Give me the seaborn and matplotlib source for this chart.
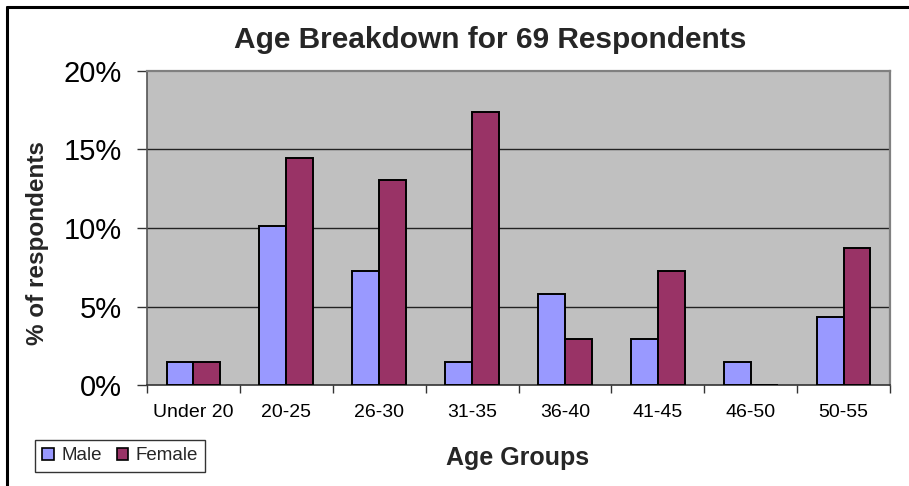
import matplotlib
matplotlib.use("Agg")
import matplotlib.pyplot as plt
from matplotlib.lines import Line2D
from matplotlib.patches import Patch
import seaborn as sns
import pandas as pd
import numpy as np

# Survey breakdown (69 respondents), counts shown as percentages
age_groups = ["Under 20", "20-25", "26-30", "31-35", "36-40", "41-45", "46-50", "50-55"]
male_pct = [1.45, 10.14, 7.25, 1.45, 5.80, 2.90, 1.45, 4.35]
female_pct = [1.45, 14.49, 13.04, 17.39, 2.90, 7.25, 0.0, 8.70]
y_ticks = [0, 5, 10, 15, 20]
y_tick_labels = ["0%", "5%", "10%", "15%", "20%"]
series_names = ["Male", "Female"]
series_colors = ["#9999FF", "#993366"]

df = pd.DataFrame({
    "group": age_groups * 2,
    "sex": [series_names[0]] * len(age_groups) + [series_names[1]] * len(age_groups),
    "pct": male_pct + female_pct,
})

sns.set_theme(style="white")
plt.rcParams["font.family"] = ["Liberation Sans", "DejaVu Sans"]

fig = plt.figure(figsize=(9.09, 4.86), dpi=100)
ax = fig.add_axes([147 / 909, 1 - 385 / 486, (890 - 147) / 909, (385 - 71) / 486])
ax.set_facecolor("#C0C0C0")

sns.barplot(data=df, x="group", y="pct", hue="sex", order=age_groups,
            hue_order=series_names, palette=series_colors, saturation=1,
            width=0.58, gap=0, edgecolor="black", linewidth=1.4, ax=ax,
            legend=False, zorder=3)

ax.set_xlim(-0.5, len(age_groups) - 0.5)
ax.set_ylim(0, 20)

# horizontal gridlines
for yv in y_ticks[1:-1]:
    ax.axhline(yv, color="#222222", linewidth=1.0, zorder=1)

ax.set_yticks(y_ticks)
ax.set_yticklabels(y_tick_labels, fontsize=21)
ax.tick_params(axis="y", direction="out", length=7, width=1, color="#333333",
               left=True, pad=11, labelcolor="black")

# category boundaries get the tick marks, names sit at the centres
ax.set_xticks(np.arange(-0.5, len(age_groups)), minor=False)
ax.set_xticklabels([])
ax.set_xticks(np.arange(len(age_groups)), minor=True)
ax.set_xticklabels(age_groups, minor=True, fontsize=14)
ax.tick_params(axis="x", which="major", direction="out", length=6, width=1,
               color="#333333", bottom=True)
ax.tick_params(axis="x", which="minor", length=0, pad=14, labelcolor="black")

ax.set_xlabel("")
ax.set_ylabel("")
for side in ["top", "right"]:
    ax.spines[side].set_color("#808080")
    ax.spines[side].set_linewidth(1.6)
ax.spines["left"].set_color("#555555")
ax.spines["bottom"].set_color("#333333")
ax.spines["left"].set_linewidth(1.2)
ax.spines["bottom"].set_linewidth(1.2)

fig.text(490 / 909, 1 - 40 / 486, "Age Breakdown for 69 Respondents",
         ha="center", va="center", fontsize=21.5, fontweight="bold")
fig.text(38 / 909, 1 - 243 / 486, "% of respondents", rotation=90,
         ha="center", va="center", fontsize=17.5, fontweight="bold")
fig.text(518 / 909, 1 - 458 / 486, "Age Groups",
         ha="center", va="center", fontsize=18, fontweight="bold")

handles = [Patch(facecolor=c, edgecolor="black", linewidth=1.2) for c in series_colors]
leg = fig.legend(handles, series_names, loc="center", bbox_to_anchor=(120 / 909, 1 - 456 / 486),
                 ncol=2, fontsize=13.5, frameon=True, fancybox=False, handlelength=0.6,
                 handleheight=0.6, handletextpad=0.4, columnspacing=0.8, borderpad=0.4)
leg.get_frame().set_edgecolor("black")
leg.get_frame().set_linewidth(1.0)

# outer chart border (top and left edges)
fig.add_artist(Line2D([7 / 909, 1.0], [1 - 7 / 486, 1 - 7 / 486], color="black", linewidth=2.2,
                      transform=fig.transFigure))
fig.add_artist(Line2D([7 / 909, 7 / 909], [0.0, 1 - 7 / 486], color="black", linewidth=2.2,
                      transform=fig.transFigure))

fig.savefig("out.png", dpi=100, facecolor="white")
